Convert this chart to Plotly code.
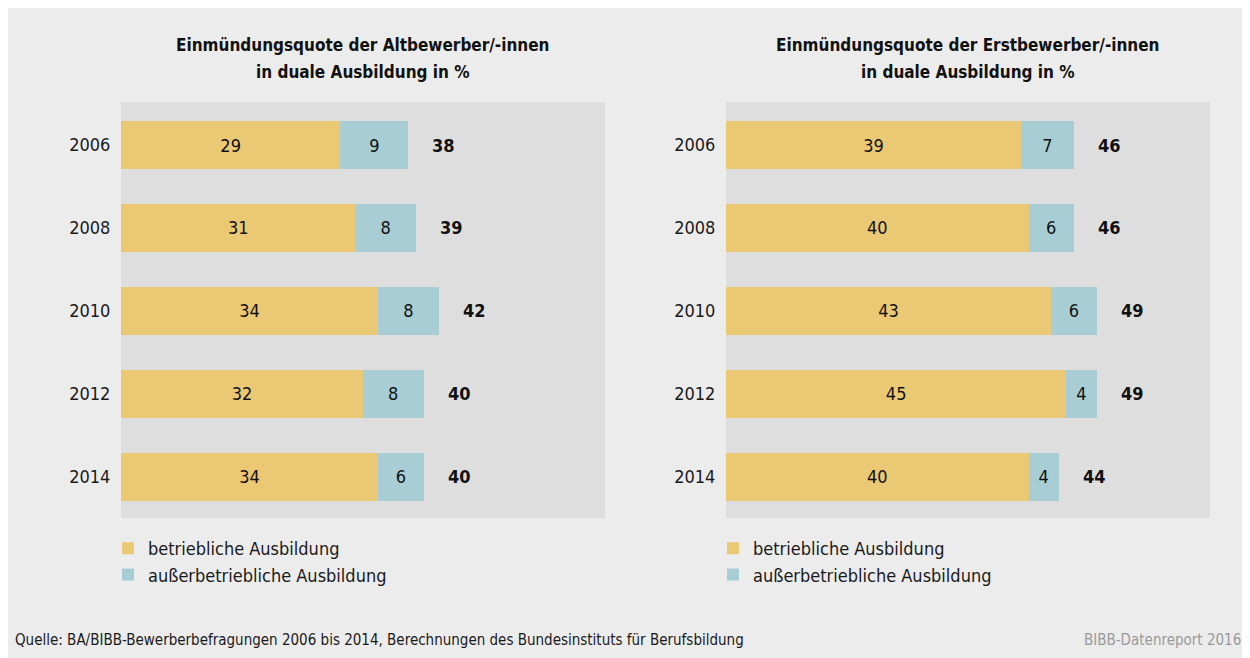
import plotly.graph_objects as go

years = ["2006", "2008", "2010", "2012", "2014"]
alt_betrieb = [29, 31, 34, 32, 34]
alt_ausser = [9, 8, 8, 8, 6]
alt_total = [38, 39, 42, 40, 40]
erst_betrieb = [39, 40, 43, 45, 40]
erst_ausser = [7, 6, 6, 4, 4]
erst_total = [46, 46, 49, 49, 44]

title_left = ["Einmündungsquote der Altbewerber/-innen", "in duale Ausbildung in %"]
title_right = ["Einmündungsquote der Erstbewerber/-innen", "in duale Ausbildung in %"]
legend_names = ["betriebliche Ausbildung", "außerbetriebliche Ausbildung"]
source = "Quelle: BA/BIBB-Bewerberbefragungen 2006 bis 2014, Berechnungen des Bundesinstituts für Berufsbildung"
credit = "BIBB-Datenreport 2016"

YELLOW = "#ebc874"
BLUE = "#a8cdd4"
FONT = "DejaVu Sans Condensed, Liberation Sans Narrow, Open Sans, sans-serif"

OFF = 8  # page body margin
W, H = 1250 - OFF, 658 - OFF
ML, MR, MT, MB = 121 - OFF, 40, 102 - OFF, 140
PW, PH = W - ML - MR, H - MT - MB


def px_x(sx):
    return (sx - OFF - ML) / PW


def px_y(sy):
    return (H - (sy - OFF) - MB) / PH


fig = go.Figure()

panels = [
    ("x", "y", alt_betrieb, alt_ausser, alt_total, "legend"),
    ("x2", "y2", erst_betrieb, erst_ausser, erst_total, "legend2"),
]

for xa, ya, b, a, t, lg in panels:
    for vals, col, name in [(b, YELLOW, legend_names[0]), (a, BLUE, legend_names[1])]:
        fig.add_trace(go.Bar(
            y=years, x=vals, orientation="h", name=name,
            marker=dict(color=col, line=dict(width=0)),
            text=[str(v) for v in vals], textposition="inside",
            insidetextanchor="middle", constraintext="none", textangle=0,
            textfont=dict(size=18, color="#111111", family=FONT),
            xaxis=xa, yaxis=ya, legend=lg, hoverinfo="skip", width=0.58,
        ))
    for i, tv in enumerate(t):
        fig.add_annotation(
            x=tv, y=i, xref=xa, yref=ya, text=f"<b>{tv}</b>", showarrow=False,
            xanchor="left", xshift=22, font=dict(size=18, color="#111111", family=FONT),
        )

axis_common = dict(range=[0, 64], autorange=False, showgrid=False, zeroline=False,
                   showticklabels=False, showline=False, fixedrange=True)
yaxis_common = dict(type="category", categoryorder="array", categoryarray=years,
                    range=[len(years) - 0.5, -0.52], autorange=False,
                    showgrid=False, zeroline=False, showline=False, ticks="outside",
                    ticklen=6, tickcolor="rgba(0,0,0,0)",
                    tickfont=dict(size=18, color="#1a1a1a", family=FONT))

left_dom = [0, px_x(605)]
right_dom = [px_x(726), 1]

legend_common = dict(xanchor="left", yanchor="top", traceorder="normal",
                     bgcolor="rgba(0,0,0,0)", font=dict(size=18, color="#1a1a1a", family=FONT),
                     itemclick=False, itemdoubleclick=False)

fig.update_layout(
    width=W, height=H,
    margin=dict(l=ML, r=MR, t=MT, b=MB, pad=0),
    paper_bgcolor="#ececec", plot_bgcolor="#dedede",
    barmode="stack",
    font=dict(family=FONT, size=18, color="#1a1a1a"),
    xaxis=dict(domain=left_dom, anchor="y", **axis_common),
    xaxis2=dict(domain=right_dom, anchor="y2", **axis_common),
    yaxis=dict(domain=[0, 1], anchor="x", **yaxis_common),
    yaxis2=dict(domain=[0, 1], anchor="x2", **yaxis_common),
    legend=dict(x=px_x(108), y=px_y(530), **legend_common),
    legend2=dict(x=px_x(713), y=px_y(530), **legend_common),
    showlegend=True,
)

for dom, lines in [(left_dom, title_left), (right_dom, title_right)]:
    cx = (dom[0] + dom[1]) / 2
    for sy, line in zip([45, 72], lines):
        fig.add_annotation(x=cx, y=px_y(sy), xref="paper", yref="paper", text=f"<b>{line}</b>",
                           showarrow=False, xanchor="center", yanchor="middle",
                           font=dict(size=17, color="#111111", family=FONT))

fig.add_annotation(x=px_x(13), y=px_y(640), xref="paper", yref="paper", text=source,
                   showarrow=False, xanchor="left", yanchor="middle",
                   font=dict(size=15, color="#1a1a1a", family=FONT))
fig.add_annotation(x=px_x(1243), y=px_y(640), xref="paper", yref="paper", text=credit,
                   showarrow=False, xanchor="right", yanchor="middle",
                   font=dict(size=15, color="#9a9a9a", family=FONT))

fig.write_html("out.html")
